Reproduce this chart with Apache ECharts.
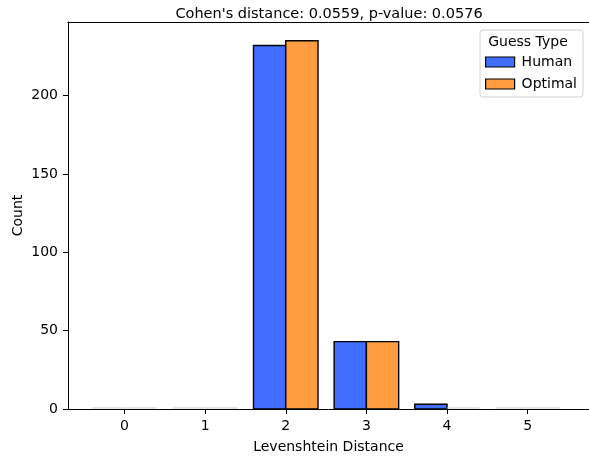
<!DOCTYPE html>
<html>
<head>
<meta charset="utf-8">
<script src="https://cdn.jsdelivr.net/npm/echarts@6/dist/echarts.min.js"></script>
<style>html,body{margin:0;padding:0;background:#fff;}#chart{width:589px;height:459px;}</style>
</head>
<body>
<div id="chart"></div>
<script>
const categories = [0, 1, 2, 3, 4, 5];
const humanCounts = [0, 0, 232, 43, 3, 0];
const optimalCounts = [0, 0, 235, 43, 0, 0];
const yTicks = [0, 50, 100, 150, 200];
const titleText = "Cohen's distance: 0.0559, p-value: 0.0576";
const seriesNames = ['Human', 'Optimal'];
const colors = ['#416eff', '#ff9d40'];

const FONT = 'DejaVu Sans';
const FS = 14;
const chart = echarts.init(document.getElementById('chart'), null, {renderer: 'canvas'});

function makeRender(offset, color) {
  return function (params, api) {
    const c = api.value(0), v = api.value(1);
    const p0 = api.coord([c + offset, v]);
    const p1 = api.coord([c + offset + 0.4, 0]);
    if (v === 0) {
      return {type: 'line', shape: {x1: p0[0], y1: p1[1] - 1, x2: p1[0], y2: p1[1] - 1},
        style: {stroke: '#c8c8c8', lineWidth: 1}};
    }
    return {type: 'rect', shape: {x: p0[0], y: p0[1], width: p1[0] - p0[0], height: p1[1] - p0[1]},
      style: {fill: color, stroke: '#000', lineWidth: 1.4}};
  };
}

chart.setOption({
  animation: false,
  textStyle: {fontFamily: FONT},
  grid: {left: 68, right: 0, top: 22, bottom: 49},
  graphic: [
    {type: 'text', z: 100, style: {text: titleText, x: 329, y: 14.5, align: 'center', verticalAlign: 'middle', font: '14.5px "DejaVu Sans"', fill: '#000'}},
    {type: 'text', z: 100, style: {text: 'Guess Type', x: 528, y: 42, align: 'center', verticalAlign: 'middle', font: FS + 'px "DejaVu Sans"', fill: '#000'}}
  ],
  legend: {
    orient: 'vertical', right: 6, top: 30,
    padding: [25, 6, 6, 5],
    itemWidth: 29, itemHeight: 10, itemGap: 8,
    backgroundColor: '#fff', borderColor: '#d0d0d0', borderWidth: 1, borderRadius: 3,
    textStyle: {fontSize: FS, fontFamily: FONT, color: '#000', padding: [0, 0, 0, 2]},
    data: seriesNames.map((n, i) => ({name: n, icon: 'rect', itemStyle: {color: colors[i], borderColor: '#000', borderWidth: 1.2}}))
  },
  xAxis: [{
    type: 'value', min: -0.7, max: 5.76,
    name: 'Levenshtein Distance', nameLocation: 'middle', nameGap: 31,
    nameTextStyle: {fontSize: FS, color: '#000', fontFamily: FONT},
    splitLine: {show: false},
    axisLine: {show: true, onZero: false, lineStyle: {color: '#000', width: 1}},
    axisTick: {show: true, length: 5, customValues: categories, lineStyle: {color: '#000'}},
    axisLabel: {customValues: categories, fontSize: FS, color: '#000', margin: 10, fontFamily: FONT}
  }, {
    type: 'value', position: 'top', min: -0.7, max: 5.76,
    splitLine: {show: false},
    axisLine: {show: true, onZero: false, lineStyle: {color: '#000', width: 1}},
    axisTick: {show: false}, axisLabel: {show: false}
  }],
  yAxis: {
    type: 'value', min: 0, max: 247,
    name: 'Count', nameLocation: 'middle', nameGap: 43, nameMoveOverlap: false,
    nameTextStyle: {fontSize: FS, color: '#000', fontFamily: FONT},
    splitLine: {show: false},
    axisLine: {show: true, onZero: false, lineStyle: {color: '#000', width: 1}},
    axisTick: {show: true, length: 5, customValues: yTicks, lineStyle: {color: '#000'}},
    axisLabel: {customValues: yTicks, fontSize: FS, color: '#000', margin: 10, fontFamily: FONT}
  },
  series: [
    {name: seriesNames[0], type: 'custom', itemStyle: {color: colors[0]}, renderItem: makeRender(-0.4, colors[0]),
      data: categories.map((c, i) => [c, humanCounts[i]])},
    {name: seriesNames[1], type: 'custom', itemStyle: {color: colors[1]}, renderItem: makeRender(0, colors[1]),
      data: categories.map((c, i) => [c, optimalCounts[i]])}
  ]
});
</script>
</body>
</html>
